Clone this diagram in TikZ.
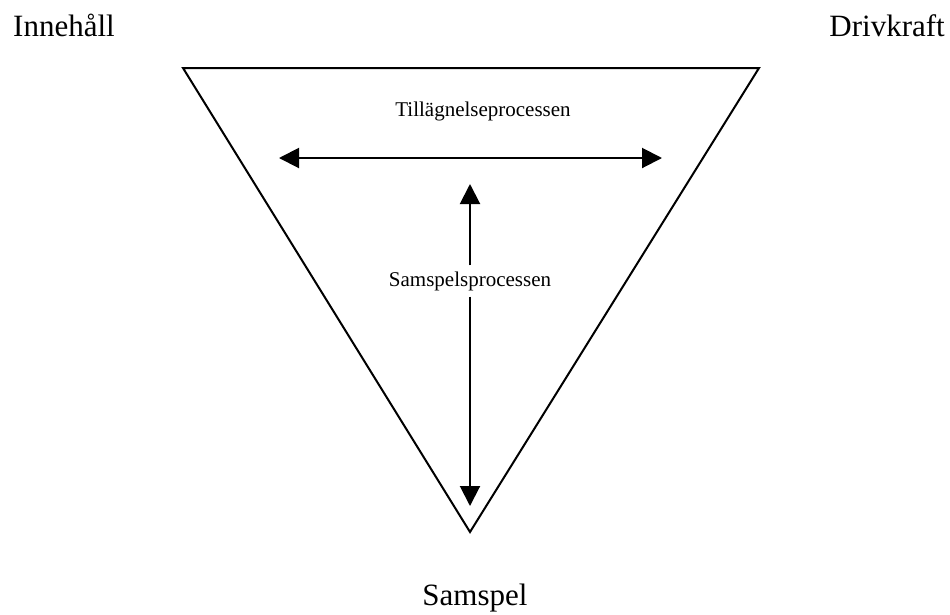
\documentclass[tikz,border=0pt]{standalone}
\usepackage{fontspec}
\setmainfont{Liberation Serif}
\usetikzlibrary{arrows.meta}
\begin{document}
\begin{tikzpicture}[x=1pt,y=-1pt,
  big/.style={font=\fontsize{31}{36}\selectfont, inner sep=0pt},
  small/.style={font=\fontsize{21}{25}\selectfont, inner sep=0pt},
  arr/.style={line width=2pt, -{Triangle[length=20pt,width=20pt]}},
  tri/.style={line width=2pt, line join=miter}]
\useasboundingbox (0,0) rectangle (950,614);
\coordinate (tl) at (183,68);
\coordinate (tr) at (759,68);
\coordinate (bt) at (470,532);
\draw[tri] (tl) -- (tr) -- (bt) -- cycle;
\node[big, anchor=base west] (inn) at (13,36) {Innehåll};
\node[big, anchor=base east] (drv) at (945,36) {Drivkraft};
\node[big] (sam) at (475,598) {Samspel};
\node[small] (til) at (483,111) {Tillägnelseprocessen};
\coordinate (hc) at (470,158);
\coordinate (hl) at (279,158);
\coordinate (hr) at (662,158);
\draw[arr] (hc) -- (hl);
\draw[arr] (hc) -- (hr);
\node[small, inner ysep=6pt] (sp) at (470,281) {Samspelsprocessen};
\coordinate (vt) at (470,184);
\coordinate (vb) at (470,506);
\draw[arr] (sp.north) -- (vt);
\draw[arr] (sp.south) -- (vb);
\end{tikzpicture}
\end{document}
